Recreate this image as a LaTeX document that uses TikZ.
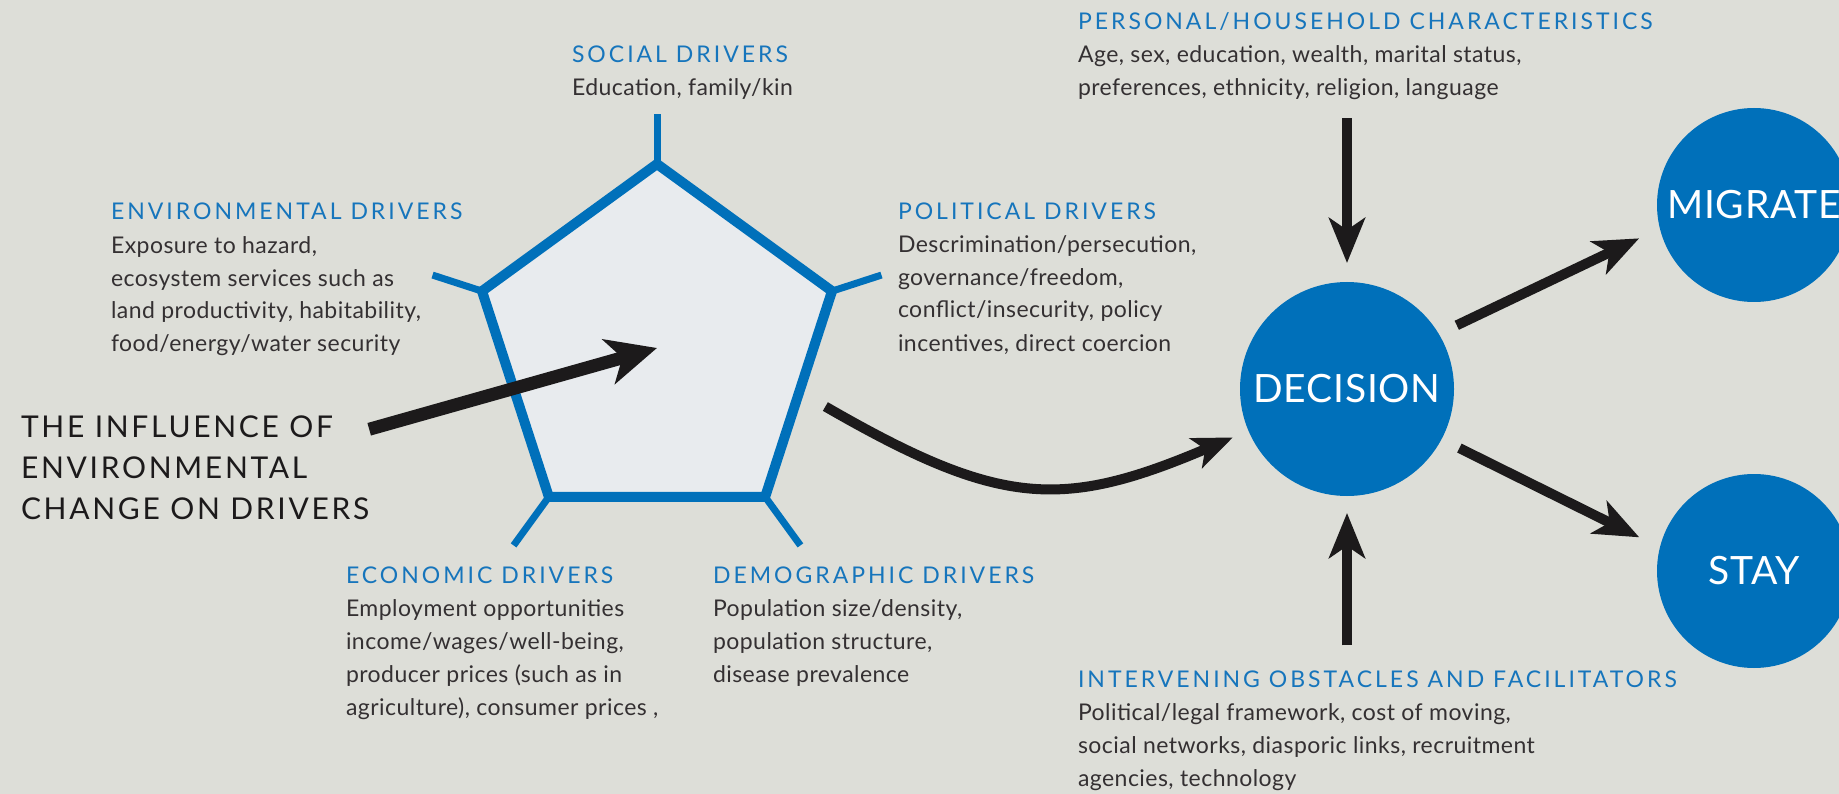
\documentclass[tikz,border=0pt]{standalone}
\usepackage{fontspec}
\setmainfont{Lato}[LetterSpace=2]
\newfontfamily\ttlfont{Lato}[LetterSpace=13]
\newfontfamily\bigfont{Lato}[LetterSpace=9]
\usetikzlibrary{shapes.geometric}
\usetikzlibrary{arrows.meta}
\usetikzlibrary{calc}
\definecolor{bggray}{RGB}{221,222,216}
\definecolor{pentfill}{RGB}{232,235,238}
\definecolor{drvblue}{RGB}{0,112,186}
\definecolor{ttlblue}{RGB}{22,117,188}
\definecolor{bodytext}{RGB}{52,48,50}
\definecolor{arrowblack}{RGB}{28,26,27}
\newcommand{\drvtitle}[1]{{\ttlfont\fontsize{23}{33}\selectfont\color{ttlblue}#1}}
\tikzset{every node/.style={inner sep=0pt, outer sep=0pt},
drivers/.style={ % Text blocks round the pentagon, placed at their last baseline
anchor=base west,
align=left,
text=bodytext,
font=\fontsize{23}{33}\selectfont},
outcome/.style={ % Blue discs on the right
circle,
fill=drvblue,
text=white,
font=\fontsize{39}{39}\selectfont},
spoke/.style={draw=drvblue, line width=7pt},
fat/.style={ % Thick black arrows
draw=arrowblack,
line width=10pt,
-{Stealth[length=45pt,width=36pt,inset=12pt]}}}

\begin{document}
\begin{tikzpicture}[x=1pt, y=-1pt]
\fill[bggray] (0,0) rectangle (1839,794);
\useasboundingbox (0,0) rectangle (1839,794);

\node[regular polygon, regular polygon sides=5, minimum size=368pt,
  draw=drvblue, fill=pentfill, line width=10pt] (pent) at (657,348) {};
\draw[spoke] (pent.corner 1) -- ($(pent.corner 1)!-50pt!(pent.center)$);
\draw[spoke] (pent.corner 2) -- ($(pent.corner 2)!-52pt!(pent.center)$);
\draw[spoke] (pent.corner 3) -- ($(pent.corner 3)!-60pt!(pent.center)$);
\draw[spoke] (pent.corner 4) -- ($(pent.corner 4)!-60pt!(pent.center)$);
\draw[spoke] (pent.corner 5) -- ($(pent.corner 5)!-52pt!(pent.center)$);

\node[drivers] (soc) at (572,96) {\drvtitle{SOCIAL DRIVERS}\\Education, family/kin};
\node[drivers] (env) at (111,352) {\drvtitle{ENVIRONMENTAL DRIVERS}\\Exposure to hazard,\\ecosystem services such as\\land productivity, habitability,\\food/energy/water security};
\node[drivers] (pol) at (898,351) {\drvtitle{POLITICAL DRIVERS}\\Descrimination/persecution,\\governance/freedom,\\conflict/insecurity, policy\\incentives, direct coercion};
\node[drivers] (eco) at (346,715) {\drvtitle{ECONOMIC DRIVERS}\\Employment opportunities\\income/wages/well-being,\\producer prices (such as in\\agriculture), consumer prices ,};
\node[drivers] (dem) at (713,682) {\drvtitle{DEMOGRAPHIC DRIVERS}\\Population size/density,\\population structure,\\disease prevalence};
\node[drivers] (pers) at (1078,96) {\drvtitle{PERSONAL/HOUSEHOLD CHARACTERISTICS}\\Age, sex, education, wealth, marital status,\\preferences, ethnicity, religion, language};
\node[drivers] (obst) at (1078,786) {\drvtitle{INTERVENING OBSTACLES AND FACILITATORS}\\Political/legal framework, cost of moving,\\social networks, diasporic links, recruitment\\agencies, technology};
\node[drivers, text=arrowblack, font=\bigfont\fontsize{30}{41}\selectfont] (infl) at (21,519) {THE INFLUENCE OF\\ENVIRONMENTAL\\CHANGE ON DRIVERS};

\node[outcome, minimum size=214pt] (dec) at (1347,389) {DECISION};
\node[outcome, minimum size=194pt] (mig) at (1754,205) {MIGRATE};
\node[outcome, minimum size=194pt] (stay) at (1754,571) {STAY};

\draw[fat, line width=13pt, -{Stealth[length=50pt,width=46pt,inset=14pt]}] ([yshift=-14pt]infl.north east) -- (pent.center);
\draw[fat, shorten <=30pt, shorten >=17pt, -{Stealth[length=40pt,width=32pt,inset=10pt]}] (pent.-17) .. controls +(201,116) and +(-186,79) .. (dec.203);
\draw[fat, shorten <=18pt, shorten >=19pt] (pers.south -| dec.north) -- (dec.north);
\draw[fat, shorten <=25pt, shorten >=17pt] (obst.north -| dec.south) -- (dec.south);
\draw[fat, shorten <=20pt, shorten >=23pt] (dec.31) -- (mig.194);
\draw[fat, shorten <=20pt, shorten >=23pt] (dec.-28) -- (stay.166);
\end{tikzpicture}
\end{document}
